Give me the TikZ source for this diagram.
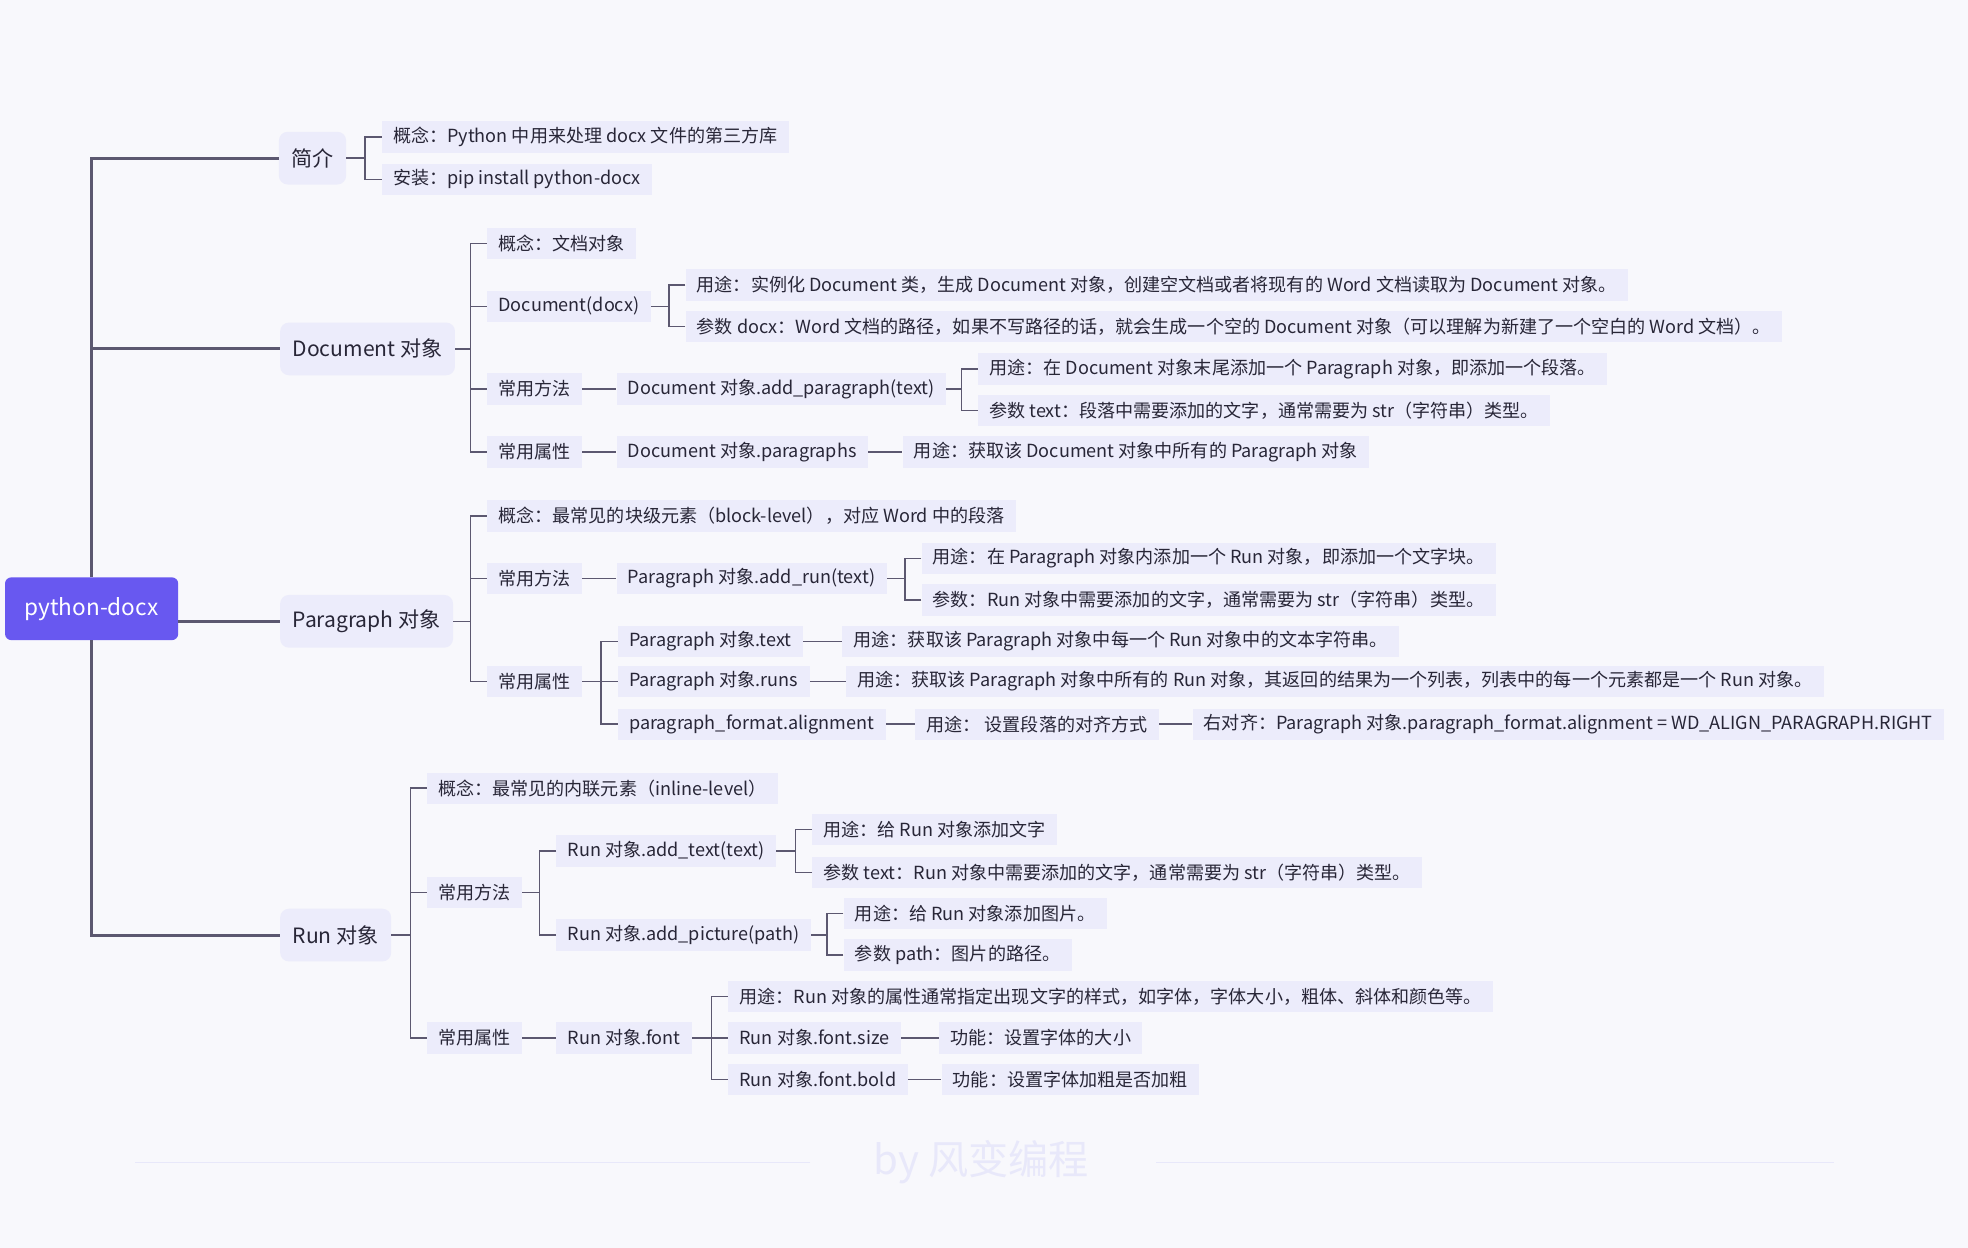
\documentclass[tikz,border=0pt]{standalone}
\usepackage{fontspec}
\setmainfont{Noto Sans CJK SC}
\usepackage{tikz}
\definecolor{bgc}{RGB}{248,248,252}
\definecolor{boxc}{RGB}{236,236,251}
\definecolor{rootc}{RGB}{104,88,240}
\definecolor{linec}{RGB}{92,88,112}
\definecolor{txtc}{RGB}{40,38,55}
\definecolor{markc}{RGB}{232,232,250}
\newcommand{\fork}[2]{\draw[twig] (#2.west) -- ++(-13,0) |- (#1.east);}
\newcommand{\link}[2]{\draw[twig] (#1.east) -- (#2.west);}
\tikzset{
  rootnode/.style={rounded corners=5pt, fill=rootc, text=white, minimum width=138pt,
    minimum height=50pt, font=\fontsize{18}{21}\selectfont},
  topnode/.style={anchor=west, rounded corners=7pt, fill=boxc, text=txtc, minimum height=42pt,
    inner xsep=10pt, font=\fontsize{16.8}{20}\selectfont},
  leaf/.style={anchor=west, fill=boxc, text=txtc, minimum height=25pt, inner xsep=9pt,
    font=\fontsize{14.4}{17}\selectfont},
  trunk/.style={draw=linec, line width=2.4pt},
  twig/.style={draw=linec, line width=1.2pt},
}

\begin{document}
\begin{tikzpicture}[x=1pt,y=-1pt]
\useasboundingbox[fill=bgc] (0,0) rectangle (1568,994);
% root and first level
\node[rootnode] (root) at (73,485) {python-docx};
\node[topnode] (intro) at (222,126) {简介};
\node[topnode] (doc) at (223,278) {Document 对象};
\node[topnode] (para) at (223,495) {Paragraph 对象};
\node[topnode] (run) at (223,745) {Run 对象};
\draw[trunk] (root.north) |- (intro.west);
\draw[trunk] (root.north) |- (doc.west);
\draw[trunk] (para.west -| root.east) -- (para.west);
\draw[trunk] (root.south) |- (run.west);
% 简介
\node[leaf] (introA) at (304,109) {概念：Python 中用来处理 docx 文件的第三方库};
\node[leaf] (introB) at (304,143) {安装：pip install python-docx};
\fork{intro}{introA}\fork{intro}{introB}
% Document
\node[leaf] (docA) at (388,194) {概念：文档对象};
\node[leaf] (docB) at (388,244) {Document(docx)};
\node[leaf] (docC) at (388,310) {常用方法};
\node[leaf] (docD) at (388,360) {常用属性};
\fork{doc}{docA}\fork{doc}{docB}\fork{doc}{docC}\fork{doc}{docD}
\node[leaf] (docBa) at (546,227) {用途：实例化 Document 类，生成 Document 对象，创建空文档或者将现有的 Word 文档读取为 Document 对象。};
\node[leaf] (docBb) at (546,260) {参数 docx：Word 文档的路径，如果不写路径的话，就会生成一个空的 Document 对象（可以理解为新建了一个空白的 Word 文档）。};
\fork{docB}{docBa}\fork{docB}{docBb}
\node[leaf] (docCa) at (491,310) {Document 对象.add\_paragraph(text)};
\link{docC}{docCa}
\node[leaf] (docCaa) at (779,294) {用途：在 Document 对象末尾添加一个 Paragraph 对象，即添加一个段落。};
\node[leaf] (docCab) at (779,327) {参数 text：段落中需要添加的文字，通常需要为 str（字符串）类型。};
\fork{docCa}{docCaa}\fork{docCa}{docCab}
\node[leaf] (docDa) at (491,360) {Document 对象.paragraphs};
\node[leaf] (docDaa) at (719,360) {用途：获取该 Document 对象中所有的 Paragraph 对象};
\link{docD}{docDa}\link{docDa}{docDaa}
% Paragraph
\node[leaf] (paraA) at (388,411) {概念：最常见的块级元素（block-level），对应 Word 中的段落};
\node[leaf] (paraB) at (388,461) {常用方法};
\node[leaf] (paraC) at (388,543) {常用属性};
\fork{para}{paraA}\fork{para}{paraB}\fork{para}{paraC}
\node[leaf] (paraBa) at (491,461) {Paragraph 对象.add\_run(text)};
\link{paraB}{paraBa}
\node[leaf] (paraBaa) at (734,445) {用途：在 Paragraph 对象内添加一个 Run 对象，即添加一个文字块。};
\node[leaf] (paraBab) at (734,478) {参数：Run 对象中需要添加的文字，通常需要为 str（字符串）类型。};
\fork{paraBa}{paraBaa}\fork{paraBa}{paraBab}
\node[leaf] (paraCa) at (492,511) {Paragraph 对象.text};
\node[leaf] (paraCb) at (492,543) {Paragraph 对象.runs};
\node[leaf] (paraCc) at (492,577) {paragraph\_format.alignment};
\fork{paraC}{paraCa}\fork{paraC}{paraCb}\fork{paraC}{paraCc}
\node[leaf] (paraCaa) at (671,511) {用途：获取该 Paragraph 对象中每一个 Run 对象中的文本字符串。};
\node[leaf] (paraCba) at (674,543) {用途：获取该 Paragraph 对象中所有的 Run 对象，其返回的结果为一个列表，列表中的每一个元素都是一个 Run 对象。};
\node[leaf] (paraCca) at (729,577) {用途： 设置段落的对齐方式};
\node[leaf] (paraCcaa) at (950,577) {右对齐：Paragraph 对象.paragraph\_format.alignment = WD\_ALIGN\_PARAGRAPH.RIGHT};
\link{paraCa}{paraCaa}\link{paraCb}{paraCba}\link{paraCc}{paraCca}\link{paraCca}{paraCcaa}
% Run
\node[leaf] (runA) at (340,628) {概念：最常见的内联元素（inline-level）};
\node[leaf] (runB) at (340,711) {常用方法};
\node[leaf] (runC) at (340,827) {常用属性};
\fork{run}{runA}\fork{run}{runB}\fork{run}{runC}
\node[leaf] (runBa) at (443,678) {Run 对象.add\_text(text)};
\node[leaf] (runBb) at (443,745) {Run 对象.add\_picture(path)};
\fork{runB}{runBa}\fork{runB}{runBb}
\node[leaf] (runBaa) at (647,661) {用途：给 Run 对象添加文字};
\node[leaf] (runBab) at (647,695) {参数 text：Run 对象中需要添加的文字，通常需要为 str（字符串）类型。};
\fork{runBa}{runBaa}\fork{runBa}{runBab}
\node[leaf] (runBba) at (672,728) {用途：给 Run 对象添加图片。};
\node[leaf] (runBbb) at (672,761) {参数 path：图片的路径。};
\fork{runBb}{runBba}\fork{runBb}{runBbb}
\node[leaf] (runCa) at (443,827) {Run 对象.font};
\link{runC}{runCa}
\node[leaf] (runCaa) at (580,794) {用途：Run 对象的属性通常指定出现文字的样式，如字体，字体大小，粗体、斜体和颜色等。};
\node[leaf] (runCab) at (580,827) {Run 对象.font.size};
\node[leaf] (runCac) at (580,860) {Run 对象.font.bold};
\fork{runCa}{runCaa}\fork{runCa}{runCab}\fork{runCa}{runCac}
\node[leaf] (runCaba) at (748,827) {功能：设置字体的大小};
\node[leaf] (runCaca) at (750,860) {功能：设置字体加粗是否加粗};
\link{runCab}{runCaba}\link{runCac}{runCaca}
% watermark
\node[text=markc, font=\fontsize{32}{36}\selectfont] (mark) at (782,926) {by 风变编程};
\draw[markc, line width=1pt] (mark.west) ++(-47,0) -- ++(-538,0);
\draw[markc, line width=1pt] (mark.east) ++(50,0) -- ++(540,0);
\end{tikzpicture}
\end{document}
